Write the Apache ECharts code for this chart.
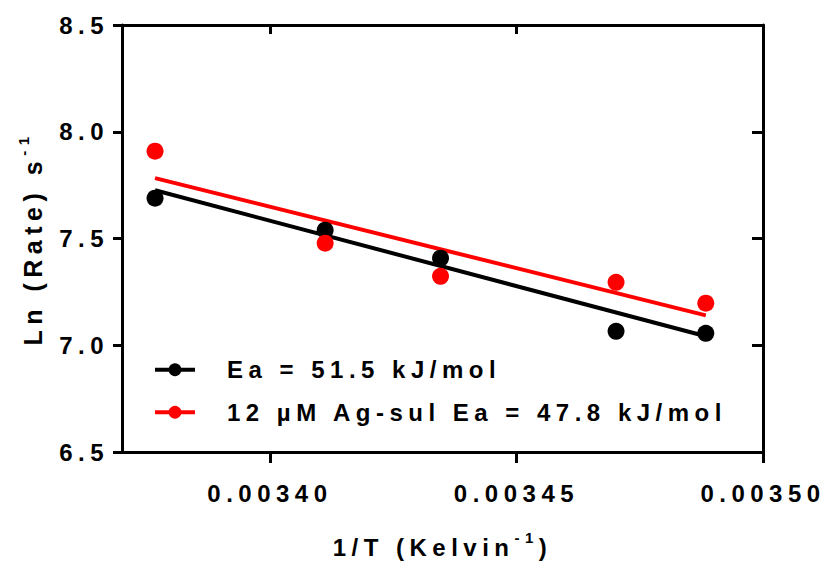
<!DOCTYPE html>
<html>
<head>
<meta charset="utf-8">
<script src="https://cdn.jsdelivr.net/npm/echarts@6/dist/echarts.min.js"></script>
<style>
  html, body { margin: 0; padding: 0; background: #fff; }
  #chart { width: 825px; height: 561px; }
  #chart text { letter-spacing: 5.5px; }
</style>
</head>
<body>
<div id="chart"></div>
<script>
// Arrhenius plot: ln(rate) against 1/T for two conditions
const invT = [0.0033767, 0.0034112, 0.0034346, 0.0034702, 0.0034884];
const lnRateControl = [7.689, 7.539, 7.408, 7.065, 7.056];
const lnRateAgSul = [7.909, 7.478, 7.323, 7.295, 7.197];

// Linear fits, evaluated at the ends of the measured range
const fitX = [0.0033767, 0.0034884];
const fitControl = [7.726, 7.042];
const fitAgSul = [7.783, 7.140];

const seriesNames = ['Ea = 51.5 kJ/mol', '12 µM Ag-sul Ea = 47.8 kJ/mol'];
const xTicks = [0.00340, 0.00345, 0.00350];

// All text is letter-spaced; measure it the same way it is drawn (SVG + CSS letter-spacing)
const LETTER_SPACING = 5.5;
const measureCtx = document.createElement('canvas').getContext('2d');
echarts.setPlatformAPI({
  measureText(text, font) {
    measureCtx.font = font || '12px sans-serif';
    const s = String(text);
    return { width: measureCtx.measureText(s).width + Array.from(s).length * LETTER_SPACING };
  }
});

const FONT = 'Liberation Sans, Arial, sans-serif';
const pairs = (xs, ys) => xs.map((x, i) => [x, ys[i]]);
const fitData = (ys) => fitX.map((x, i) => ({ value: [x, ys[i]], symbol: 'none' }));

const axisLine = { show: true, onZero: false, lineStyle: { color: '#000', width: 3 } };
const labelStyle = { color: '#000', fontFamily: FONT, fontWeight: 'bold', fontSize: 24 };
// Axis titles with a raised "-1" exponent (tall main line, exponent pinned to its top)
const nameRich = (size) => ({
  m: Object.assign({}, labelStyle, { fontSize: size, lineHeight: 40 }),
  s: Object.assign({}, labelStyle, { fontSize: 15, verticalAlign: 'top', lineHeight: 4 })
});

const chart = echarts.init(document.getElementById('chart'), null, { renderer: 'svg' });
chart.setOption({
  animation: false,
  backgroundColor: '#fff',
  grid: { left: 122, right: 62, top: 25, bottom: 109, outerBoundsMode: 'none', containLabel: false },
  xAxis: [
    {
      type: 'value', position: 'bottom', min: 0.00337, max: 0.0035,
      axisLine,
      axisTick: { show: true, length: 11, inside: false, lineStyle: { color: '#000', width: 3 }, customValues: xTicks },
      axisLabel: Object.assign({ margin: 27, customValues: xTicks, formatter: v => v.toFixed(5) }, labelStyle),
      splitLine: { show: false },
      name: '{m|1/T (Kelvin}{s|-1}{m|)}',
      nameLocation: 'middle', nameGap: 75,
      nameTextStyle: { rich: nameRich(24) }
    },
    {
      type: 'value', position: 'top', min: 0.00337, max: 0.0035,
      axisLine,
      axisTick: { show: true, length: 9, inside: true, lineStyle: { color: '#000', width: 3 }, customValues: xTicks },
      axisLabel: { show: false },
      splitLine: { show: false }
    }
  ],
  yAxis: [
    {
      type: 'value', position: 'left', min: 6.5, max: 8.5, interval: 0.5,
      axisLine,
      axisTick: { show: true, length: 9, inside: false, lineStyle: { color: '#000', width: 3 } },
      axisLabel: Object.assign({ margin: 13, formatter: v => v.toFixed(1) }, labelStyle),
      splitLine: { show: false },
      name: '{m|Ln (Rate) s}{s|-1}',
      nameLocation: 'middle', nameGap: 63, nameRotate: 90,
      nameTextStyle: { rich: nameRich(25) }
    },
    {
      type: 'value', position: 'right', min: 6.5, max: 8.5, interval: 0.5,
      axisLine,
      axisTick: { show: true, length: 11, inside: true, lineStyle: { color: '#000', width: 3 } },
      axisLabel: { show: false },
      splitLine: { show: false }
    }
  ],
  legend: {
    data: seriesNames,
    orient: 'vertical',
    left: 153, top: 355, padding: 0,
    itemWidth: 40, itemHeight: 16, itemGap: 13,
    lineStyle: { width: 4 },
    textStyle: Object.assign({ padding: [0, 0, 0, 27] }, labelStyle)
  },
  series: [
    {
      name: seriesNames[0], type: 'line', xAxisIndex: 0, yAxisIndex: 0,
      data: fitData(fitControl),
      symbol: 'circle', symbolSize: 17,
      itemStyle: { color: '#000', opacity: 1 },
      lineStyle: { color: '#000', width: 4 },
      z: 2
    },
    {
      name: seriesNames[1], type: 'line', xAxisIndex: 0, yAxisIndex: 0,
      data: fitData(fitAgSul),
      symbol: 'circle', symbolSize: 17,
      itemStyle: { color: '#ff0000', opacity: 1 },
      lineStyle: { color: '#ff0000', width: 4 },
      z: 2
    },
    {
      name: 'control points', type: 'scatter', xAxisIndex: 0, yAxisIndex: 0,
      data: pairs(invT, lnRateControl),
      symbol: 'circle', symbolSize: 17,
      itemStyle: { color: '#000', opacity: 1 },
      z: 3
    },
    {
      name: 'Ag-sul points', type: 'scatter', xAxisIndex: 0, yAxisIndex: 0,
      data: pairs(invT, lnRateAgSul),
      symbol: 'circle', symbolSize: 17,
      itemStyle: { color: '#ff0000', opacity: 1 },
      z: 3
    }
  ]
});
</script>
</body>
</html>
